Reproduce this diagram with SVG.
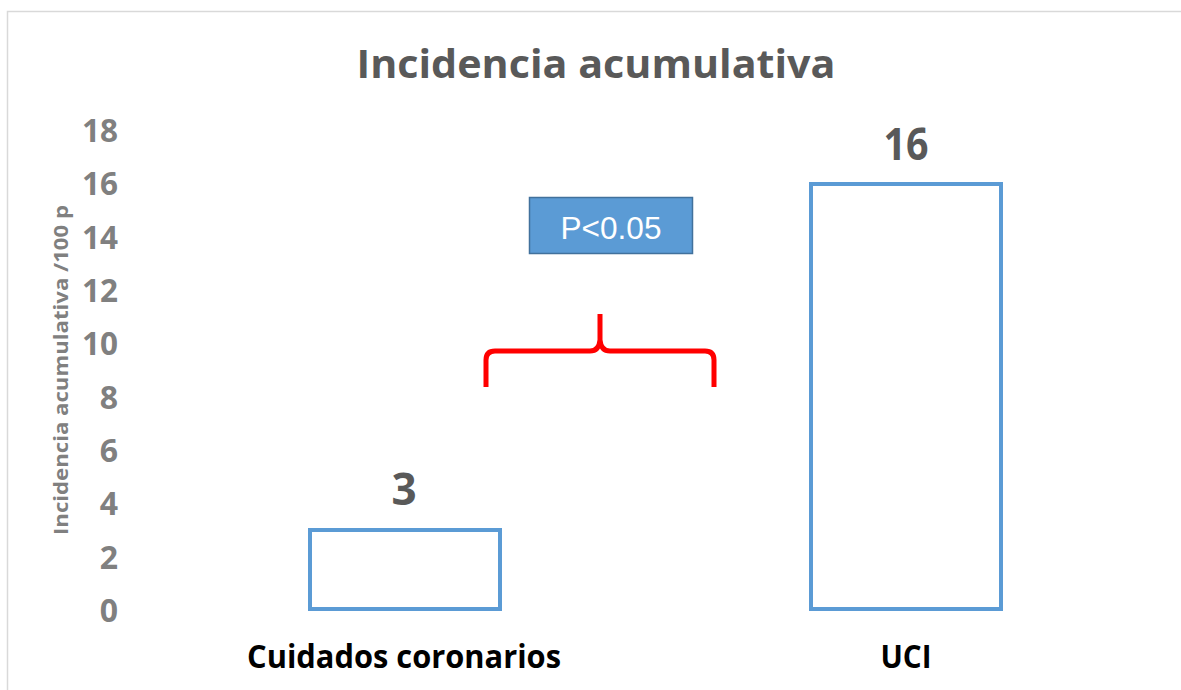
<svg xmlns="http://www.w3.org/2000/svg" width="1181" height="690" viewBox="0 0 1181 690">
<style>
.tick{font-family:"Open Sans","Liberation Sans",sans-serif;font-weight:bold;font-size:32px;fill:#808080;text-anchor:end}
.cat{font-family:"Open Sans","Liberation Sans",sans-serif;font-weight:bold;font-size:33px;fill:#000;text-anchor:middle}
.val{font-family:"Open Sans","Liberation Sans",sans-serif;font-weight:bold;font-size:44px;fill:#595959;text-anchor:middle}
.bar{fill:#fff;stroke:#5B9BD5;stroke-width:4}
</style>
<rect x="0" y="0" width="1181" height="690" fill="#fff"/>
<rect x="7.5" y="11.5" width="1190" height="700" fill="#fff" stroke="#D9D9D9" stroke-width="1.5"/>
<text x="596" y="78" font-family="Open Sans, Liberation Sans, sans-serif" font-weight="bold" font-size="39" fill="#595959" text-anchor="middle" textLength="479" lengthAdjust="spacingAndGlyphs">Incidencia acumulativa</text>
<g id="yaxis">
<text class="tick" x="118" y="142" textLength="36" lengthAdjust="spacingAndGlyphs">18</text>
<text class="tick" x="118" y="195" textLength="36" lengthAdjust="spacingAndGlyphs">16</text>
<text class="tick" x="118" y="249" textLength="36" lengthAdjust="spacingAndGlyphs">14</text>
<text class="tick" x="118" y="302" textLength="36" lengthAdjust="spacingAndGlyphs">12</text>
<text class="tick" x="118" y="355" textLength="36" lengthAdjust="spacingAndGlyphs">10</text>
<text class="tick" x="118" y="409">8</text>
<text class="tick" x="118" y="462">6</text>
<text class="tick" x="118" y="515">4</text>
<text class="tick" x="118" y="569">2</text>
<text class="tick" x="118" y="622">0</text>
<text transform="translate(68,370) rotate(-90)" font-family="Open Sans, Liberation Sans, sans-serif" font-weight="bold" font-size="19" fill="#808080" text-anchor="middle" textLength="330" lengthAdjust="spacingAndGlyphs">Incidencia acumulativa /100 p</text>
</g>
<g id="bar-cuidados">
<rect class="bar" x="310" y="530" width="190" height="79"/>
<text class="val" x="404" y="505">3</text>
<text class="cat" x="404" y="668" textLength="314" lengthAdjust="spacingAndGlyphs">Cuidados coronarios</text>
</g>
<g id="bar-uci">
<rect class="bar" x="811" y="184" width="190" height="425"/>
<text class="val" x="906" y="160" textLength="45" lengthAdjust="spacingAndGlyphs">16</text>
<text class="cat" x="906" y="668" textLength="51" lengthAdjust="spacingAndGlyphs">UCI</text>
</g>
<g id="pvalue">
<rect x="529.5" y="197.5" width="163" height="56" fill="#5B9BD5" stroke="#41719C" stroke-width="1.5"/>
<text x="611" y="239" font-family="Liberation Sans, Arial, sans-serif" font-size="31" fill="#fff" text-anchor="middle" textLength="101" lengthAdjust="spacingAndGlyphs">P&lt;0.05</text>
</g>
<g id="connectors">
<path d="M486,387 L486,360 Q486,351 495,351 L590,351 Q599,351 600,340 L600,314 M600,340 Q601,351 610,351 L705,351 Q714,351 714,360 L714,387" fill="none" stroke="#FF0000" stroke-width="5"/>
</g>
</svg>
